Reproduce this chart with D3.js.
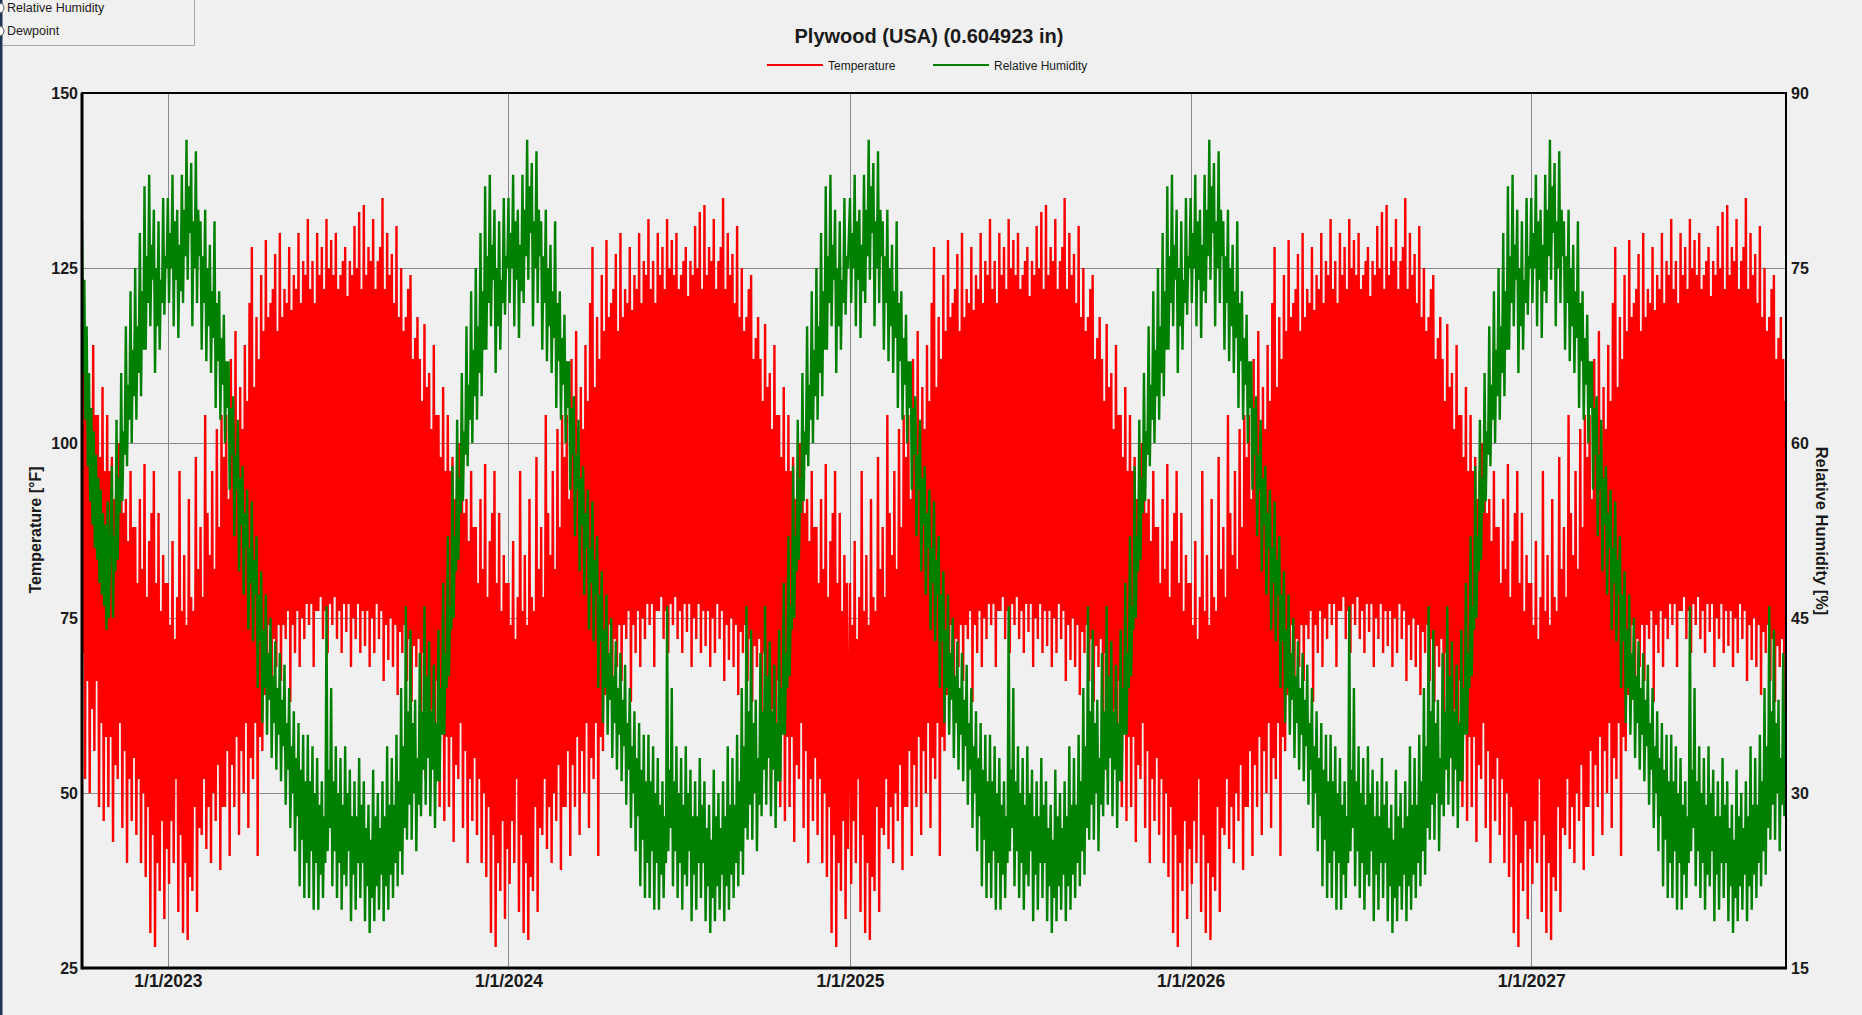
<!DOCTYPE html>
<html>
<head>
<meta charset="utf-8">
<script src="https://cdn.jsdelivr.net/npm/d3@7/dist/d3.min.js"></script>
<style>
  html, body { margin: 0; padding: 0; background: #f0f0f0; overflow: hidden; }
  svg { display: block; }
  text { font-family: "Liberation Sans", Arial, sans-serif; fill: #1a1a1a; }
</style>
</head>
<body>
<svg id="chart" width="1862" height="1015"></svg>
<script>
// Simulated conditions inside a plywood sheet. The hygrothermal model loops one
// climate year, so each series is stored as one climate year of 2.5-day steps
// (step j starts on Jan 1 + 2.5*j days): the high and then the low of that step.

const chartTitle = "Plywood (USA) (0.604923 in)";
const seriesNames = ["Temperature", "Relative Humidity"];
const yLeftTicks = [25, 50, 75, 100, 125, 150];
const yRightTicks = [15, 30, 45, 60, 75, 90];
const dateTicks = ["2023-01-01", "2024-01-01", "2025-01-01", "2026-01-01", "2027-01-01"];
const periodStart = "2022-10-01";
const periodEnd = "2027-10-01";

// Temperature [°F], 146 steps, one row per month (December has 14)
const tempHigh = [
  80, 74, 86, 72, 78, 96, 76, 84, 74, 92, 78, 76,
  98, 82, 88, 78, 104, 90, 84, 96, 82, 102, 88, 104,
  98, 104, 92, 112, 100, 116, 96, 108, 102, 114, 106, 120,
  128, 108, 118, 112, 124, 116, 129, 118, 120, 122, 127, 116,
  130, 118, 122, 120, 128, 119, 124, 122, 130, 120, 126, 124,
  132, 122, 126, 120, 130, 124, 128, 122, 132, 125, 129, 124,
  130, 122, 124, 126, 128, 121, 126, 124, 131, 125, 133, 122,
  134, 124, 128, 126, 132, 122, 126, 128, 135, 122, 130, 124,
  127, 120, 131, 118, 125, 116, 118, 122, 124, 112, 115, 118,
  112, 106, 117, 108, 110, 102, 114, 104, 104, 98, 108, 96,
  104, 96, 98, 92, 96, 100, 100, 90, 92, 86, 96, 88,
  88, 80, 92, 82, 97, 78, 86, 90, 96, 80, 90, 76, 84, 80
];
const tempLow = [
  37, 46, 40, 52, 33, 44, 30, 40, 29, 38, 36, 48,
  33, 45, 44, 52, 42, 48, 40, 50, 46, 54, 39, 48,
  48, 56, 41, 54, 48, 58, 44, 56, 50, 60, 45, 55,
  52, 60, 41, 58, 56, 64, 70, 74, 64, 72, 68, 74,
  66, 74, 72, 76, 63, 74, 70, 76, 68, 75, 72, 77,
  74, 77, 68, 76, 76, 78, 72, 76, 70, 77, 74, 78,
  72, 76, 70, 77, 73, 77, 68, 75, 72, 77, 70, 76,
  71, 76, 68, 75, 70, 77, 72, 76, 66, 74, 69, 75,
  68, 74, 64, 73, 70, 74, 66, 72, 63, 71, 68, 72,
  60, 70, 52, 66, 50, 62, 56, 66, 48, 60, 46, 58,
  48, 58, 43, 54, 52, 60, 45, 56, 40, 52, 46, 55,
  44, 52, 40, 50, 38, 48, 30, 44, 28, 40, 36, 46, 32, 42
];

// Relative humidity [%], 146 steps, one row per month (December has 14)
const rhHigh = [
  81, 78, 83, 79, 80, 77, 83, 80, 86, 82, 84, 79,
  85, 80, 79, 76, 80, 75, 77, 73, 79, 72, 73, 69,
  71, 67, 67, 63, 64, 59, 62, 57, 58, 54, 56, 51,
  55, 50, 52, 47, 49, 44, 47, 42, 45, 40, 43, 39,
  42, 38, 41, 36, 39, 34, 37, 33, 36, 32, 35, 31,
  35, 31, 34, 30, 33, 29, 31, 28, 46, 32, 39, 31,
  34, 30, 33, 29, 34, 30, 32, 28, 31, 28, 33, 29,
  31, 27, 29, 26, 32, 28, 30, 27, 31, 28, 34, 29,
  33, 29, 35, 31, 39, 34, 46, 37, 44, 36, 38, 33,
  42, 37, 46, 40, 43, 37, 41, 36, 44, 39, 48, 42,
  52, 46, 58, 52, 62, 57, 66, 61, 70, 65, 73, 68,
  75, 70, 78, 73, 82, 76, 83, 77, 80, 75, 79, 74, 81, 76
];
const rhLow = [
  72, 75, 70, 74, 69, 73, 72, 76, 74, 78, 70, 75,
  72, 76, 68, 72, 67, 70, 66, 69, 63, 67, 62, 65,
  60, 63, 56, 59, 52, 56, 49, 53, 47, 51, 44, 48,
  43, 47, 39, 43, 36, 39, 35, 38, 33, 36, 32, 35,
  31, 34, 29, 32, 27, 30, 25, 28, 22, 26, 21, 24,
  21, 25, 20, 24, 20, 23, 21, 24, 25, 27, 22, 25,
  21, 24, 20, 23, 22, 25, 19, 23, 20, 24, 21, 24,
  19, 22, 18, 21, 19, 22, 20, 23, 19, 22, 20, 23,
  21, 24, 22, 25, 23, 27, 26, 29, 26, 30, 25, 29,
  28, 32, 29, 33, 28, 32, 27, 31, 31, 35, 35, 39,
  40, 44, 45, 49, 50, 54, 55, 59, 58, 62, 60, 64,
  62, 66, 64, 68, 68, 72, 70, 74, 66, 70, 68, 72, 71, 75
];

// Moisture settling from the initial state: first month of the run, 2.5-day steps
const rhSpinUpHigh = [79, 74, 70, 66, 63, 61, 59, 57, 56, 54, 53, 55];
const rhSpinUpLow = [66, 62, 58, 55, 53, 51, 50, 48, 47, 46, 44, 45];

const W = 1862, H = 1015;
const plot = { left: 82, right: 1786, top: 93, bottom: 968 };
const DAY = 864e5;
const STEP = 2.5 * DAY;
const parse = d3.timeParse("%Y-%m-%d");
const t0 = parse(periodStart), t1 = parse(periodEnd);

const x = d3.scaleTime().domain([t0, t1]).range([plot.left, plot.right]);
const yT = d3.scaleLinear().domain([25, 150]).range([plot.bottom, plot.top]);
const yRH = d3.scaleLinear().domain([15, 90]).range([plot.bottom, plot.top]);

// Lay the climate-year steps over the simulated period: high, then low half a step later
function seriesFrom(high, low, spinHigh, spinLow) {
  const pts = [];
  let resumeAt = t0;
  if (spinHigh) {
    spinHigh.forEach((v, k) => {
      const d = new Date(+t0 + k * STEP);
      pts.push([d, v]);
      pts.push([new Date(+d + STEP / 2), spinLow[k]]);
    });
    resumeAt = new Date(+t0 + spinHigh.length * STEP);
  }
  for (let yr = t0.getFullYear(); yr <= t1.getFullYear(); yr++) {
    const jan1 = +new Date(yr, 0, 1);
    high.forEach((v, j) => {
      const d = new Date(jan1 + j * STEP);
      if (+d + STEP <= +t0 || d >= t1) return;
      if (spinHigh && d < resumeAt) return;
      pts.push([d, v]);
      pts.push([new Date(+d + STEP / 2), low[j]]);
    });
  }
  return pts;
}

const tempSeries = seriesFrom(tempHigh, tempLow);
const rhSeries = seriesFrom(rhHigh, rhLow, rhSpinUpHigh, rhSpinUpLow);

const svg = d3.select("#chart");

// window frame and the option panel above the chart
svg.append("rect").attr("x", 0).attr("y", 0).attr("width", 2.5).attr("height", H).attr("fill", "#1d3557");
svg.append("path").attr("d", "M2.5,45.5 H194.5 V0").attr("fill", "none").attr("stroke", "#a9a9a9");
svg.append("circle").attr("cx", -1).attr("cy", 8).attr("r", 5).attr("fill", "#fff").attr("stroke", "#555");
svg.append("circle").attr("cx", -1).attr("cy", 31).attr("r", 5).attr("fill", "#fff").attr("stroke", "#555");
svg.append("text").attr("x", 7).attr("y", 12).style("font-size", "12.5px").text("Relative Humidity");
svg.append("text").attr("x", 7).attr("y", 35).style("font-size", "12.5px").text("Dewpoint");

// title
svg.append("text").attr("x", 929).attr("y", 43).attr("text-anchor", "middle")
  .style("font-size", "20px").style("font-weight", "bold").text(chartTitle);

// legend
const legend = [
  { name: seriesNames[0], color: "#ff0000", x: 767 },
  { name: seriesNames[1], color: "#008000", x: 933 }
];
legend.forEach(l => {
  svg.append("line").attr("x1", l.x).attr("x2", l.x + 56).attr("y1", 65).attr("y2", 65)
    .attr("stroke", l.color).attr("stroke-width", 2);
  svg.append("text").attr("x", l.x + 61).attr("y", 69.5).style("font-size", "12px").text(l.name);
});

// grid
const grid = svg.append("g").attr("stroke", "#8a8a8a").attr("stroke-width", 1);
yLeftTicks.slice(1, -1).forEach(v => {
  grid.append("line").attr("x1", plot.left).attr("x2", plot.right)
    .attr("y1", Math.round(yT(v)) + 0.5).attr("y2", Math.round(yT(v)) + 0.5);
});
dateTicks.map(parse).forEach(d => {
  grid.append("line").attr("y1", plot.top).attr("y2", plot.bottom)
    .attr("x1", Math.round(x(d)) + 0.5).attr("x2", Math.round(x(d)) + 0.5);
});

// series: temperature first, relative humidity drawn over it
svg.append("clipPath").attr("id", "clip").append("rect")
  .attr("x", plot.left).attr("y", plot.top)
  .attr("width", plot.right - plot.left).attr("height", plot.bottom - plot.top);

const lineT = d3.line().x(d => x(d[0])).y(d => yT(d[1]));
const lineRH = d3.line().x(d => x(d[0])).y(d => yRH(d[1]));
const marks = svg.append("g").attr("clip-path", "url(#clip)");
marks.append("path").datum(tempSeries).attr("d", lineT)
  .attr("fill", "none").attr("stroke", "#ff0000").attr("stroke-width", 2.4).attr("stroke-linejoin", "bevel");
marks.append("path").datum(rhSeries).attr("d", lineRH)
  .attr("fill", "none").attr("stroke", "#008000").attr("stroke-width", 2.4).attr("stroke-linejoin", "bevel");

// frame
svg.append("rect").attr("x", plot.left).attr("y", plot.top)
  .attr("width", plot.right - plot.left).attr("height", plot.bottom - plot.top)
  .attr("fill", "none").attr("stroke", "#000").attr("stroke-width", 2);
svg.append("line").attr("x1", plot.left).attr("x2", plot.left).attr("y1", plot.top).attr("y2", plot.bottom + 1.5)
  .attr("stroke", "#000").attr("stroke-width", 3);
svg.append("line").attr("x1", plot.left).attr("x2", plot.right + 1).attr("y1", plot.bottom).attr("y2", plot.bottom)
  .attr("stroke", "#000").attr("stroke-width", 3);

// axes (labels only, the frame carries the lines)
const axisLeft = d3.axisLeft(yT).tickValues(yLeftTicks).tickSize(0).tickPadding(4);
const gl = svg.append("g").attr("transform", `translate(${plot.left},0)`).call(axisLeft);
const axisRight = d3.axisRight(yRH).tickValues(yRightTicks).tickSize(0).tickPadding(5);
const gr = svg.append("g").attr("transform", `translate(${plot.right},0)`).call(axisRight);
const axisBottom = d3.axisBottom(x).tickValues(dateTicks.map(parse))
  .tickFormat(d3.timeFormat("%-m/%-d/%Y")).tickSize(0).tickPadding(7);
const gb = svg.append("g").attr("transform", `translate(0,${plot.bottom})`).call(axisBottom);
[gl, gr, gb].forEach(g => {
  g.select(".domain").remove();
  g.selectAll("text").style("font-family", "'Liberation Sans', Arial, sans-serif")
    .style("font-size", "16px").style("font-weight", "bold").attr("fill", "#1a1a1a");
});
gb.selectAll("text").style("font-size", "17.5px");

// axis titles
svg.append("text").attr("transform", `translate(41,530) rotate(-90)`).attr("text-anchor", "middle")
  .style("font-size", "16px").style("font-weight", "bold").text("Temperature [°F]");
svg.append("text").attr("transform", `translate(1816,531) rotate(90)`).attr("text-anchor", "middle")
  .style("font-size", "16.5px").style("font-weight", "bold").text("Relative Humidity [%]");
</script>
</body>
</html>
